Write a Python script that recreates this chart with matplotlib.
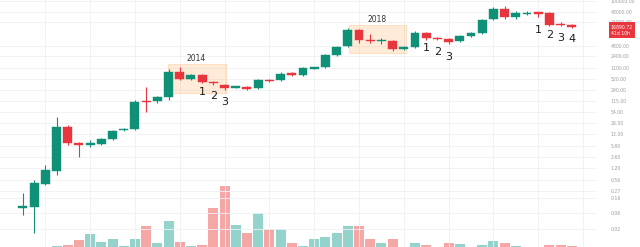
import matplotlib
matplotlib.use("Agg")
import matplotlib.pyplot as plt
from matplotlib.patches import Rectangle
import numpy as np

# Quarterly candles, Q3 2010 .. Q4 2022 (prices)
opens = [0.0855, 0.0885, 0.42, 1.01, 19.9, 6.74, 6.09, 6.30, 8.84, 16.3,
         17.4, 116, 116, 152, 826, 515, 674, 420, 343, 289,
         299, 280, 481, 481, 772, 674, 1080, 1160, 2610, 4810,
         14200, 7210, 6740, 6740, 4060, 4490, 11600, 8260, 7720, 6740,
         9460, 11600, 29900, 58900, 34300, 42000, 44900, 44900, 21300, 19900]
highs = [0.229, 0.55, 1.52, 39, 22.8, 7.21, 8.26, 9.46, 16.3, 18.6,
         124, 299, 163, 1010, 1160, 721, 721, 449, 367, 320,
         320, 515, 515, 826, 826, 1160, 1160, 2800, 4810, 16300,
         15200, 10800, 8260, 7210, 4810, 13300, 12400, 8840, 8260, 10100,
         12400, 29900, 67400, 72100, 51400, 51400, 48100, 48100, 24400, 21300]
lows = [0.0514, 0.0152, 0.39, 0.77, 5.89, 2.61, 5.14, 5.89, 8.26, 15.2,
        16.3, 55, 101, 124, 481, 481, 392, 343, 244, 280,
        244, 261, 420, 449, 630, 630, 1010, 1080, 2440, 4490,
        5890, 5890, 5510, 3430, 3670, 4200, 7210, 7210, 5510, 6300,
        8840, 10800, 27900, 29900, 29900, 39200, 34300, 18600, 18600, 16300]
closes = [0.0916, 0.45, 1.08, 19.9, 6.74, 6.09, 6.52, 8.84, 15.2, 17.4,
          108, 108, 152, 826, 515, 674, 420, 379, 280, 299,
          261, 481, 449, 721, 674, 1080, 1120, 2610, 4490, 14200,
          7210, 6840, 6980, 3920, 4250, 11600, 8260, 7720, 6300, 9460,
          11600, 27900, 58900, 34300, 44900, 44900, 43400, 19900, 19900, 17400]
volume = [0, 0, 0.5, 1, 2, 7, 13, 5, 8, 1,
          8, 21, 4, 26, 5, 1, 2, 39, 61, 22,
          14, 34, 18, 18, 4, 1, 8, 10, 14, 21,
          21, 8, 4, 8, 0.5, 4, 2, 0.5, 4, 3,
          0.5, 2, 6, 4, 1, 0.5, 0.5, 2, 2, 1]

price_ticks = [100000, 48000, 24000, 4800, 2400, 1100, 520, 240, 115, 54,
               26, 12, 5.6, 2.6, 1.2, 0.56, 0.27, 0.16, 0.06, 0.02]
last_price = 16890.72

# cycle annotations: (label, first candle, last candle, box top, box bottom)
cycles = [("2014", 12.95, 18.1, 1420, 199), ("2018", 29.1, 34.2, 19900, 2990)]
cycle_labels = [("2014", 15.5, 1990), ("2018", 31.6, 27900)]
counts = [("1", 16, 213), ("2", 17, 163), ("3", 18, 108),
          ("1", 36, 4200), ("2", 37, 3200), ("3", 38, 2280),
          ("1", 46, 14200), ("2", 47, 10100), ("3", 48, 8260), ("4", 49, 7720)]

UP = "#0f9177"
DOWN = "#e8363f"
UP_VOL = "#93d3cb"
DOWN_VOL = "#f5a7a6"

o = np.array(opens)
c = np.array(closes)
x = np.arange(len(o))
up = c >= o

fig = plt.figure(figsize=(6.4, 2.47), dpi=100)
ax = fig.add_axes([0, 0, 597 / 640, 1])
ax.set_yscale("log")
ax.set_xlim(-2.05, 51.25)
ax.set_ylim(0.0059, 108000)

# volume pane overlaid at the bottom
vax = ax.twinx()
vax.set_ylim(0, max(volume) * 4.05)
vax.bar(x, volume, width=0.9, color=np.where(up, UP_VOL, DOWN_VOL), zorder=1)
vax.axis("off")
ax.set_zorder(vax.get_zorder() + 1)
ax.patch.set_visible(False)

# grid
for gx in range(2, 52, 4):
    ax.axvline(gx, color="#eef0f4", lw=0.6, zorder=0)
for t in price_ticks:
    ax.axhline(t, color="#eef0f4", lw=0.6, zorder=0)

# candles
colors = np.where(up, UP, DOWN)
ax.vlines(x, lows, highs, colors=colors, lw=0.8, zorder=3)
bot = np.minimum(o, c)
top = np.maximum(o, c)
min_ratio = 1.11
small = top / bot < min_ratio
mid = np.sqrt(top * bot)
bot = np.where(small, mid / np.sqrt(min_ratio), bot)
top = np.where(small, mid * np.sqrt(min_ratio), top)
ax.bar(x, top - bot, bottom=bot, width=0.8, color=colors, edgecolor=colors,
       linewidth=0.3, zorder=4)

# cycle boxes and labels
for name, x0, x1, ytop, ybot in cycles:
    ax.add_patch(Rectangle((x0, ybot), x1 - x0, ytop - ybot,
                           facecolor=(1.0, 0.62, 0.25, 0.2),
                           edgecolor=(1.0, 0.62, 0.25, 0.3), lw=0.6, zorder=2))
for name, lx, ly in cycle_labels:
    ax.text(lx, ly, name, fontsize=5.5, color="#333333", ha="center", va="center")
for name, lx, ly in counts:
    ax.text(lx, ly, name, fontsize=8, color="#1c1c1c", ha="center", va="center")

# right price scale
ax.yaxis.tick_right()
ax.set_yticks(price_ticks)
ax.set_yticklabels([f"{t:.2f}" for t in price_ticks])
ax.yaxis.set_minor_locator(matplotlib.ticker.NullLocator())
ax.tick_params(axis="y", length=0, pad=10, labelsize=3.3, labelcolor="#9a9ca3")
ax.set_xticks([])
for s in ax.spines.values():
    s.set_visible(False)

ax.annotate(f"{last_price:.2f}\n41d 10h", xy=(1.0, last_price),
            xycoords=("axes fraction", "data"), xytext=(10, -2),
            textcoords="offset points", fontsize=3.3, color="white",
            va="center", ha="left", linespacing=1.3, annotation_clip=False,
            bbox=dict(boxstyle="square,pad=0.5", fc=DOWN, ec="none"))

fig.savefig("out.png", dpi=100)
